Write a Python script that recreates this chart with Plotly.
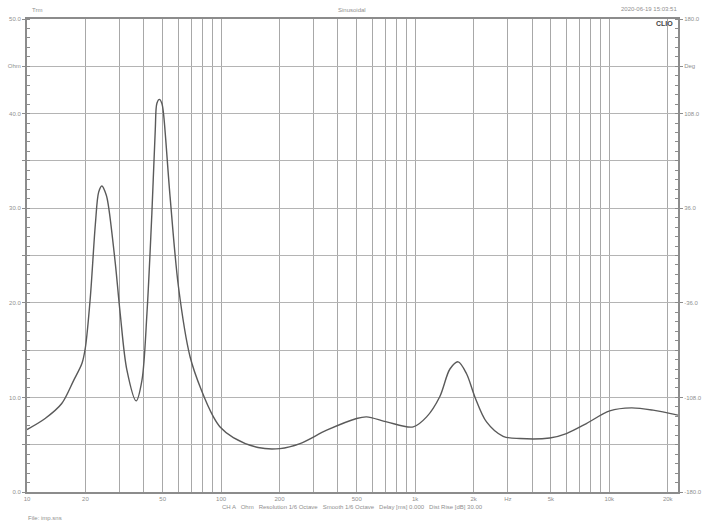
import plotly.graph_objects as go

freq_hz = [10, 12.4, 15.1, 17.4, 19.2, 20, 21.2, 22.5, 23.4, 24.3, 25.6, 26.3, 28.5, 30.2, 32.7, 36.5,
           39.1, 41.5, 44, 45.8, 46.7, 48.1, 49.5, 50.5, 54.6, 60.3, 69.2, 79, 91.3, 98.8, 115.6, 155,
           201, 255, 350, 499, 562, 713, 977, 1145, 1340, 1510, 1665, 1839, 2030, 2331,
           2838, 3459, 4934, 6012, 7620, 10050, 13000, 16800, 22600]
impedance_ohm = [6.6, 7.77, 9.35, 11.8, 13.6, 15.3, 20.6, 28.3, 31.7, 32.35, 31.4, 30.2, 24.2, 18.9, 12.9, 9.63,
                 11.8, 18.9, 29.5, 38.3, 41.1, 41.5, 41.1, 40.0, 31.2, 21.7, 14.3, 10.8, 7.94, 6.88, 5.75, 4.7,
                 4.59, 5.12, 6.53, 7.77, 7.94, 7.41, 6.88, 7.94, 10.1, 13.0, 13.76, 12.5, 10.05, 7.41,
                 5.89, 5.65, 5.71, 6.18, 7.24, 8.57, 8.89, 8.65, 8.12]

x_grid = [10, 20, 30, 40, 50, 60, 70, 80, 90, 100, 200, 300, 400, 500, 600, 700, 800, 900,
          1000, 2000, 3000, 4000, 5000, 6000, 7000, 8000, 9000, 10000, 20000]
x_labels = {10: "10", 20: "20", 50: "50", 100: "100", 200: "200", 500: "500", 1000: "1k",
            2000: "2k", 3000: "Hz", 5000: "5k", 10000: "10k", 20000: "20k"}
y_ticks = [0, 5, 10, 15, 20, 25, 30, 35, 40, 45, 50]
y_labels = ["0.0", "", "10.0", "", "20.0", "", "30.0", "", "40.0", "Ohm", "50.0"]
y2_ticks = [-180, -108, -36, 36, 108, 144, 180]
y2_labels = ["-180.0", "-108.0", "-36.0", "36.0", "108.0", "Deg", "180.0"]

FONT = "Liberation Sans"
TXT = "#8f8f8f"
GRID = "#b4b4b4"
L, R, T, B = 27, 27, 19, 36
W, H = 705, 528

fig = go.Figure()
fig.add_trace(go.Scatter(x=freq_hz, y=impedance_ohm, mode="lines",
                         line=dict(color="#5a5a5a", width=1.4, shape="spline", smoothing=0.9),
                         showlegend=False, hoverinfo="x+y"))
fig.add_trace(go.Scatter(x=[10], y=[0], yaxis="y2", mode="lines", showlegend=False,
                         hoverinfo="skip"))

fig.update_layout(
    width=W, height=H,
    margin=dict(l=L, r=R, t=T, b=B),
    paper_bgcolor="white", plot_bgcolor="white",
    font=dict(family=FONT, size=6, color=TXT),
    xaxis=dict(type="log", range=[1, 4.354], automargin=False,
               tickmode="array", tickvals=x_grid,
               ticktext=[x_labels.get(v, "") for v in x_grid],
               showgrid=True, gridcolor="#a8a8a8", gridwidth=1,
               showline=True, linecolor="#8c8c8c", linewidth=2, mirror=True,
               ticks="", tickfont=dict(size=6, color=TXT), zeroline=False),
    yaxis=dict(range=[0, 50], tickmode="array", tickvals=y_ticks, ticktext=y_labels,
               automargin=False,
               showgrid=True, gridcolor=GRID, gridwidth=1,
               showline=True, linecolor="#8c8c8c", linewidth=2,
               ticks="outside", ticklen=3, tickcolor="#8c8c8c",
               minor=dict(dtick=1, ticks="inside", ticklen=3, tickcolor="#8c8c8c", showgrid=False),
               tickfont=dict(size=6, color=TXT), zeroline=False),
    yaxis2=dict(range=[-180, 180], overlaying="y", side="right", automargin=False,
                tickmode="array", tickvals=y2_ticks, ticktext=y2_labels,
                showgrid=False, showline=True, linecolor="#8c8c8c", linewidth=2,
                ticks="outside", ticklen=3, tickcolor="#8c8c8c",
                minor=dict(tick0=-180, dtick=7.2, ticks="inside", ticklen=3,
                           tickcolor="#8c8c8c", showgrid=False),
                tickfont=dict(size=6, color=TXT), zeroline=False),
)

ann = [
    dict(text="Trm", x=30, y=10, xanchor="left"),
    dict(text="Sinusoidal", x=352, y=10, xanchor="center"),
    dict(text="2020-06-19 15:03:51", x=679, y=9, xanchor="right"),
    dict(text="CH A   Ohm   Resolution 1/6 Octave   Smooth 1/6 Octave   Delay [ms] 0.000   Dist Rise [dB] 30.00",
         x=352, y=507, xanchor="center"),
    dict(text="File: imp.sns", x=26, y=518, xanchor="left"),
]
pw, ph = W - L - R, H - T - B
for a in ann:
    fig.add_annotation(text=a["text"], xref="paper", yref="paper",
                       x=(a["x"] - L) / pw, y=1 - (a["y"] - T) / ph,
                       xanchor=a["xanchor"], yanchor="middle", showarrow=False,
                       font=dict(size=6, color=TXT, family=FONT))
fig.add_annotation(text="<b>CLIO</b>", xref="paper", yref="paper",
                   x=(675 - L) / pw, y=1 - (23.5 - T) / ph,
                   xanchor="right", yanchor="middle", showarrow=False,
                   font=dict(size=7, color="#444444", family=FONT))

fig.write_html("out.html", config={"displayModeBar": False})

# remove the browser's default page margin so the figure sits at the window's top-left corner
with open("out.html", "r", encoding="utf-8") as fh:
    html = fh.read()
html = html.replace("<head>", "<head><style>html,body{margin:0;padding:0;overflow:hidden;}</style>", 1)
with open("out.html", "w", encoding="utf-8") as fh:
    fh.write(html)
